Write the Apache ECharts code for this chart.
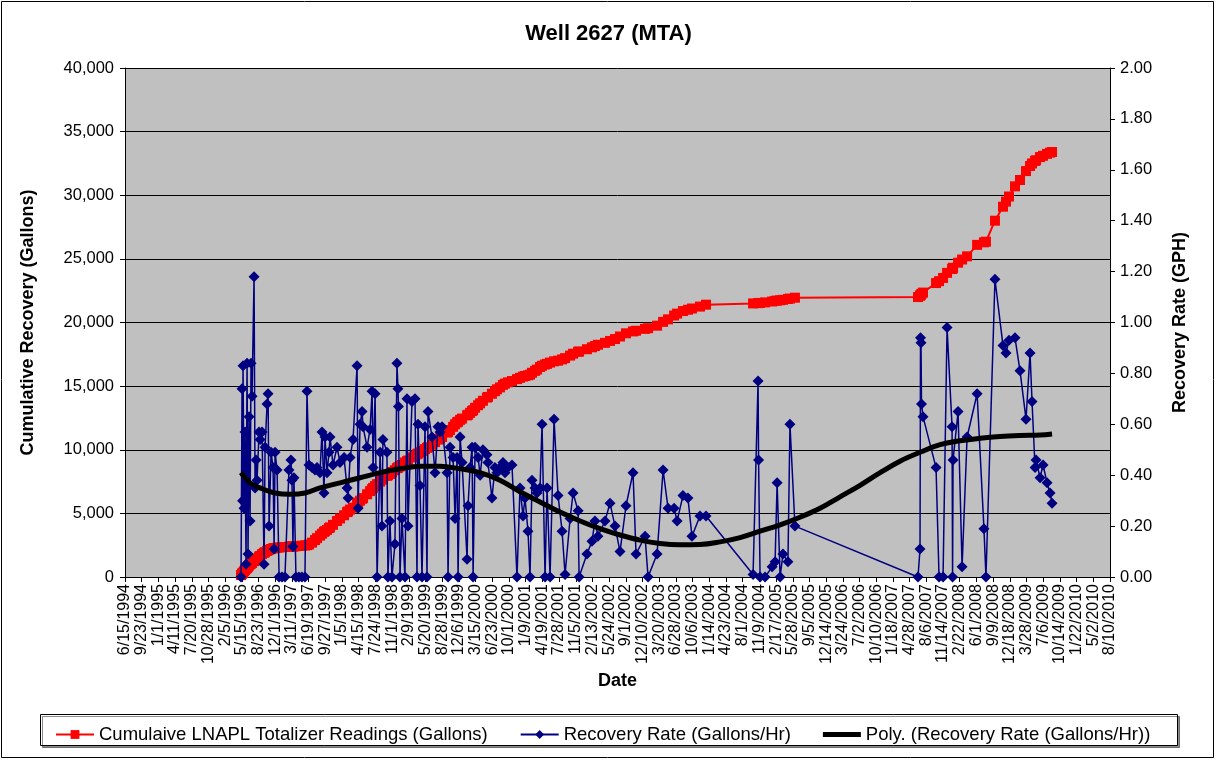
<!DOCTYPE html>
<html>
<head>
<meta charset="utf-8">
<title>Well 2627 (MTA)</title>
<script src="https://cdn.jsdelivr.net/npm/echarts@6/dist/echarts.min.js"></script>
<style>
  html, body { margin: 0; padding: 0; background: #fff; }
  #chart { width: 1217px; height: 762px; }
</style>
</head>
<body>
<div id="chart"></div>
<script>
  // reading dates are Excel date serials (1 = 1/1/1900), the x axis works in days
  const readDates = [
    35195, 35201, 35204, 35207, 35213, 35219, 35225, 35231, 35237, 35243,
    35249, 35255, 35261, 35273, 35279, 35285, 35291, 35303, 35309, 35321,
    35333, 35339, 35351, 35357, 35363, 35375, 35387, 35393, 35399, 35411,
    35423, 35440, 35458, 35482, 35494, 35500, 35506, 35512, 35524, 35542,
    35560, 35578, 35590, 35602, 35620, 35638, 35650, 35668, 35680, 35692,
    35698, 35710, 35722,
    35728, 35746, 35770, 35788, 35812, 35830, 35836, 35848, 35866, 35890,
    35896, 35908, 35920, 35926, 35950, 35968, 35980, 35986, 35998, 36010,
    36028, 36039, 36045, 36069, 36075, 36087, 36099, 36117, 36129, 36135,
    36138, 36147, 36159, 36177, 36189, 36195, 36219, 36237, 36249, 36255,
    36267, 36279, 36297, 36309, 36315, 36339, 36357, 36375,
    36387, 36399, 36429, 36435, 36447, 36465, 36477, 36489, 36495, 36507,
    36519, 36549, 36555, 36567, 36579, 36585, 36597, 36615, 36627, 36644,
    36668, 36674, 36698, 36716, 36728, 36746, 36764, 36776, 36794, 36818,
    36848, 36866, 36884, 36896, 36914, 36926, 36938, 36956, 36968, 36986,
    36998, 37016, 37028, 37046, 37070, 37094, 37118,
    37136, 37166, 37184, 37214, 37220, 37267, 37297, 37315, 37333, 37375,
    37405, 37435, 37465, 37501, 37543, 37561, 37615, 37633, 37687, 37723,
    37753, 37789, 37807, 37842, 37872, 37896, 37944, 37980, 38262, 38292,
    38295, 38304, 38334, 38376, 38394, 38406, 38424, 38441, 38471, 38483,
    38513,
    39250, 39262, 39265, 39268, 39271, 39280, 39358, 39376, 39400, 39424,
    39454, 39457, 39460, 39490, 39514, 39544, 39604, 39645, 39657, 39711,
    39759, 39777, 39795, 39831, 39861, 39897, 39921, 39933, 39951, 39957,
    39981, 39999, 40023, 40041, 40053
  ]

  const cumGallons = [
    150, 250, 300, 350, 450, 550, 650, 700, 800, 900,
    1000, 1050, 1100, 1250, 1300, 1400, 1450, 1600, 1650, 1800,
    1900, 1950, 2050, 2100, 2150, 2200, 2250, 2270, 2280, 2300,
    2320, 2340, 2360, 2380, 2390, 2400, 2400, 2410, 2420, 2440,
    2460, 2480, 2500, 2550, 2700, 2900, 3050, 3250, 3400, 3550,
    3600, 3700, 3850,
    3900, 4100, 4400, 4600, 4850, 5100, 5150, 5300, 5450, 5800,
    5850, 6000, 6150, 6200, 6500, 6750, 6900, 7000, 7150, 7300,
    7500, 7650, 7700, 7950, 8000, 8100, 8250, 8400, 8550, 8600,
    8620, 8700, 8800, 9000, 9100, 9150, 9400, 9550, 9650, 9700,
    9800, 9900, 10050, 10150, 10200, 10400, 10600, 10800,
    10900, 11000, 11350, 11400, 11550, 11800, 12000, 12150, 12200, 12350,
    12450, 12700, 12750, 12900, 13050, 13100, 13300, 13500, 13650, 13850,
    14100, 14150, 14400, 14600, 14750, 14900, 15100, 15200, 15300, 15400,
    15550, 15650, 15750, 15800, 15850, 15900, 16050, 16200, 16300, 16500,
    16600, 16700, 16750, 16850, 16950, 17000, 17100,
    17200, 17400, 17550, 17700, 17720, 17900, 18050, 18150, 18250, 18400,
    18550, 18700, 18900, 19150, 19300, 19350, 19500, 19550, 19750, 20050,
    20250, 20550, 20700, 20900, 21000, 21100, 21250, 21400, 21500, 21520,
    21530, 21540, 21580, 21650, 21700, 21720, 21750, 21780, 21850, 21880,
    21950,
    22000, 22100, 22150, 22200, 22250, 22350, 23100, 23250, 23500, 23900,
    24200, 24250, 24300, 24700, 24950, 25200, 26100, 26300, 26350, 28000,
    29100, 29500, 29900, 30700, 31200, 31900, 32300, 32500, 32700, 32750,
    33000, 33100, 33250, 33350, 33400
  ]

  const rateGph = [
    0.00, 0.74, 0.30, 0.83, 0.27, 0.57, 0.05, 0.84, 0.09, 0.63,
    0.22, 0.84, 0.71, 1.18, 0.35, 0.46, 0.38, 0.57, 0.54, 0.57,
    0.05, 0.51, 0.68, 0.72, 0.20, 0.49, 0.43, 0.11, 0.49, 0.42,
    0.00, 0.00, 0.00, 0.42, 0.46, 0.38, 0.12, 0.39, 0.00, 0.00,
    0.00, 0.00, 0.73, 0.44, 0.43, 0.42, 0.43, 0.41, 0.57, 0.33,
    0.55, 0.41, 0.49,
    0.55, 0.44, 0.51, 0.45, 0.47, 0.35, 0.31, 0.47, 0.54, 0.83,
    0.27, 0.60, 0.65, 0.59, 0.51, 0.58, 0.73, 0.43, 0.72, 0.00,
    0.49, 0.20, 0.54, 0.49, 0.00, 0.22, 0.00, 0.13, 0.84, 0.74,
    0.67, 0.00, 0.23, 0.00, 0.70, 0.20, 0.69, 0.70, 0.00, 0.60,
    0.36, 0.00, 0.59, 0.00, 0.65, 0.55, 0.41, 0.59,
    0.57, 0.59, 0.41, 0.00, 0.51, 0.47, 0.23, 0.47, 0.00, 0.55,
    0.45, 0.07, 0.28, 0.43, 0.51, 0.00, 0.51, 0.47, 0.40, 0.50,
    0.48, 0.45, 0.31, 0.43, 0.41, 0.43, 0.45, 0.41, 0.43, 0.44,
    0.00, 0.35, 0.24, 0.31, 0.18, 0.00, 0.38, 0.35, 0.33, 0.35,
    0.60, 0.00, 0.35, 0.00, 0.62, 0.32, 0.18,
    0.01, 0.23, 0.33, 0.26, 0.00, 0.09, 0.14, 0.22, 0.16, 0.22,
    0.29, 0.20, 0.10, 0.28, 0.41, 0.09, 0.16, 0.00, 0.09, 0.42,
    0.27, 0.27, 0.22, 0.32, 0.31, 0.16, 0.24, 0.24, 0.01, 0.77,
    0.46, 0.00, 0.00, 0.04, 0.06, 0.37, 0.00, 0.09, 0.06, 0.60,
    0.20,
    0.00, 0.11, 0.94, 0.92, 0.68, 0.63, 0.43, 0.00, 0.00, 0.98,
    0.59, 0.00, 0.46, 0.65, 0.04, 0.55, 0.72, 0.19, 0.00, 1.17,
    0.91, 0.88, 0.93, 0.94, 0.81, 0.62, 0.88, 0.69, 0.43, 0.46,
    0.39, 0.44, 0.37, 0.33, 0.29
  ]

  const trendDates = [
    35195, 35249, 35309, 35399, 35488, 35578, 35668, 35788, 35908, 36028,
    36147, 36267, 36387, 36507, 36627, 36746, 36866, 36986, 37106, 37226,
    37345, 37465, 37585, 37705, 37825, 37944, 38064, 38184, 38304, 38424,
    38543, 38663, 38783, 38903, 39023, 39142, 39262, 39382, 39502, 39622,
    39741, 39861, 39981, 40053
  ]
  const trendGph = [
    0.41, 0.37, 0.35, 0.33, 0.325, 0.33, 0.35, 0.37, 0.39, 0.41,
    0.425, 0.435, 0.435, 0.425, 0.41, 0.38, 0.335, 0.295, 0.255, 0.22,
    0.19, 0.165, 0.145, 0.132, 0.127, 0.128, 0.138, 0.155, 0.18, 0.205,
    0.235, 0.27, 0.315, 0.36, 0.41, 0.455, 0.49, 0.52, 0.535, 0.545,
    0.552, 0.556, 0.558, 0.562
  ]

  const dateAxis = { min: 34500, max: 40400, step: 100 } // 6/15/1994 .. 8/10/2010
  const gallonAxis = { min: 0, max: 40000, step: 5000 }
  const rateAxis = { min: 0, max: 2, step: 0.2 }

  const FONT = '"Liberation Sans", Arial, sans-serif'

  function serialToText(s) {
    const d = new Date(Date.UTC(1899, 11, 30) + s * 86400000)
    return (d.getUTCMonth() + 1) + '/' + d.getUTCDate() + '/' + d.getUTCFullYear()
  }

  const chart = echarts.init(document.getElementById('chart'))

  chart.setOption({
    animation: false,
    backgroundColor: '#fff',
    textStyle: { fontFamily: FONT, color: '#000' },
    title: {
      text: 'Well 2627 (MTA)',
      left: 'center',
      top: 18,
      textStyle: { fontFamily: FONT, fontSize: 22, fontWeight: 'bold', color: '#000' },
    },
    graphic: [
      {
        type: 'rect',
        shape: { x: 1.5, y: 1.5, width: 1212, height: 756 },
        style: { fill: null, stroke: '#000', lineWidth: 1 },
        z: -1,
      },
      {
        type: 'rect',
        shape: { x: 40.5, y: 714.5, width: 1137, height: 31 },
        style: { fill: '#fff', stroke: '#000', lineWidth: 1, shadowColor: 'rgba(0,0,0,0.45)', shadowOffsetX: 2, shadowOffsetY: 2 },
        z: 0,
      },
    ],
    legend: {
      left: 50,
      top: 720,
      itemGap: 32,
      itemWidth: 38,
      itemHeight: 11,
      textStyle: { fontFamily: FONT, fontSize: 18.5, color: '#000' },
      data: [
        { name: 'Cumulaive LNAPL Totalizer Readings (Gallons)' },
        { name: 'Recovery Rate (Gallons/Hr)' },
        { name: 'Poly. (Recovery Rate (Gallons/Hr))', icon: 'path://M0,0L38,0L38,5L0,5Z' },
      ],
      z: 5,
    },
    grid: {
      left: 125,
      right: 107,
      top: 68,
      bottom: 185,
      show: true,
      backgroundColor: '#C0C0C0',
      borderWidth: 0,
    },
    xAxis: {
      type: 'value',
      min: dateAxis.min,
      max: dateAxis.max,
      interval: dateAxis.step,
      name: 'Date',
      nameLocation: 'middle',
      nameGap: 95,
      nameTextStyle: { fontFamily: FONT, fontSize: 18, fontWeight: 'bold', color: '#000' },
      axisLine: { show: true, lineStyle: { color: '#000', width: 1 } },
      axisTick: { show: true, length: 5, lineStyle: { color: '#000' } },
      axisLabel: {
        rotate: 90,
        margin: 7,
        fontFamily: FONT,
        fontSize: 16,
        color: '#000',
        showMinLabel: true,
        showMaxLabel: true,
        hideOverlap: false,
        formatter: (v) => serialToText(v),
      },
      splitLine: { show: false },
    },
    yAxis: [
      {
        type: 'value',
        min: gallonAxis.min,
        max: gallonAxis.max,
        interval: gallonAxis.step,
        name: 'Cumulative Recovery (Gallons)',
        nameLocation: 'middle',
        nameRotate: 90,
        nameGap: 88,
        nameTextStyle: { fontFamily: FONT, fontSize: 18, fontWeight: 'bold', color: '#000' },
        axisLine: { show: true, lineStyle: { color: '#000', width: 1 } },
        axisTick: { show: true, length: 5, lineStyle: { color: '#000' } },
        axisLabel: {
          margin: 11,
          fontFamily: FONT,
          fontSize: 16.5,
          color: '#000',
          formatter: (v) => v.toLocaleString('en-US'),
        },
        splitLine: { show: true, lineStyle: { color: '#000', width: 1 } },
      },
      {
        type: 'value',
        position: 'right',
        min: rateAxis.min,
        max: rateAxis.max,
        interval: rateAxis.step,
        name: 'Recovery Rate (GPH)',
        nameLocation: 'middle',
        nameRotate: 90,
        nameGap: 61,
        nameTextStyle: { fontFamily: FONT, fontSize: 18, fontWeight: 'bold', color: '#000' },
        axisLine: { show: true, lineStyle: { color: '#000', width: 1 } },
        axisTick: { show: true, length: 5, lineStyle: { color: '#000' } },
        axisLabel: {
          margin: 10,
          fontFamily: FONT,
          fontSize: 16.5,
          color: '#000',
          formatter: (v) => v.toFixed(2),
        },
        splitLine: { show: false },
      },
    ],
    series: [
      {
        name: 'Cumulaive LNAPL Totalizer Readings (Gallons)',
        type: 'line',
        yAxisIndex: 0,
        data: readDates.map((d, i) => [d, cumGallons[i]]),
        symbol: 'rect',
        symbolSize: 10,
        color: '#FF0000',
        lineStyle: { color: '#FF0000', width: 2 },
        itemStyle: { color: '#FF0000' },
        z: 2,
      },
      {
        name: 'Recovery Rate (Gallons/Hr)',
        type: 'line',
        yAxisIndex: 1,
        data: readDates.map((d, i) => [d, rateGph[i]]),
        symbol: 'diamond',
        symbolSize: 11,
        color: '#000080',
        lineStyle: { color: '#000080', width: 1.5 },
        itemStyle: { color: '#000080' },
        z: 3,
      },
      {
        name: 'Poly. (Recovery Rate (Gallons/Hr))',
        type: 'line',
        yAxisIndex: 1,
        data: trendDates.map((d, i) => [d, trendGph[i]]),
        smooth: 0.4,
        symbol: 'none',
        color: '#000',
        lineStyle: { color: '#000', width: 5 },
        z: 4,
      },
    ],
  })
</script>
</body>
</html>
